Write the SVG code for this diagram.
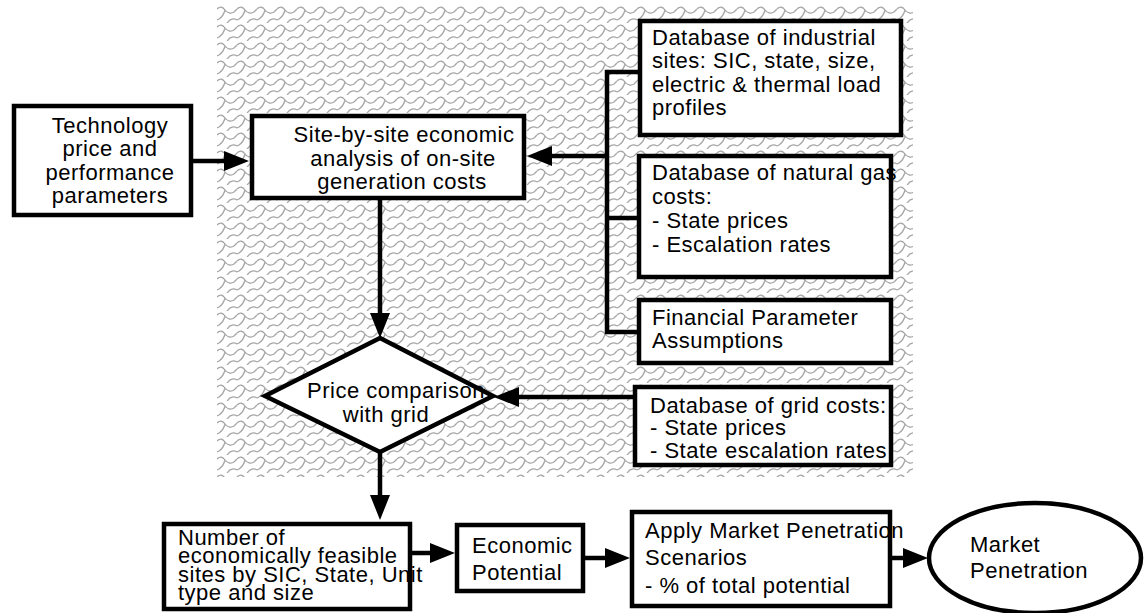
<svg xmlns="http://www.w3.org/2000/svg" width="1146" height="613" viewBox="0 0 1146 613">
<style>
  .box { fill: #ffffff; stroke: #000000; stroke-width: 4.5; }
  .conn { fill: none; stroke: #000000; stroke-width: 4.5; }
  text { font-family: "Liberation Sans", Arial, sans-serif; font-size: 22px; letter-spacing: 0.5px; fill: #000000; }
  .c { text-anchor: middle; }
</style>
<defs>
  <pattern id="shingle" patternUnits="userSpaceOnUse" x="217" y="5" width="20" height="18">
    <path d="M0,4 C3,1 6,2 8,5 C10,8 14,9 17,7 L20,4 M8,5 C7,9 5,12 2,14 L0,15 M20,15 C17,13 13,14 11,17 L10,18" fill="none" stroke="#a6a6a6" stroke-width="1.3"/>
  </pattern>
  <marker id="arrow" markerUnits="userSpaceOnUse" markerWidth="26" markerHeight="20" refX="0" refY="10" orient="auto">
    <path d="M0,0 L25,10 L0,20 Z" fill="#000000"/>
  </marker>
</defs>
<rect x="217" y="5" width="696" height="472" fill="url(#shingle)"/>

<g id="connectors">
  <line class="conn" x1="193" y1="161" x2="224" y2="161" marker-end="url(#arrow)"/>
  <polyline class="conn" points="638,72 607,72 607,332 638,332"/>
  <line class="conn" x1="607" y1="218" x2="638" y2="218"/>
  <line class="conn" x1="607" y1="156" x2="552" y2="156" marker-end="url(#arrow)"/>
  <line class="conn" x1="380" y1="200" x2="380" y2="313" marker-end="url(#arrow)"/>
  <line class="conn" x1="633" y1="397" x2="519" y2="397" marker-end="url(#arrow)"/>
  <line class="conn" x1="380" y1="452" x2="380" y2="495" marker-end="url(#arrow)"/>
  <line class="conn" x1="412" y1="553" x2="430" y2="553" marker-end="url(#arrow)"/>
  <line class="conn" x1="585" y1="558" x2="605" y2="558" marker-end="url(#arrow)"/>
  <line class="conn" x1="892" y1="558" x2="903" y2="558" marker-end="url(#arrow)"/>
</g>

<g id="technology">
  <rect class="box" x="14" y="106" width="177" height="109"/>
  <text class="c" x="110" y="133">Technology</text>
  <text class="c" x="110" y="156">price and</text>
  <text class="c" x="110" y="180">performance</text>
  <text class="c" x="110" y="203">parameters</text>
</g>

<g id="site-analysis">
  <rect class="box" x="252" y="116" width="272" height="82"/>
  <text class="c" x="404" y="142">Site-by-site economic</text>
  <text class="c" x="403" y="165.5">analysis of on-site</text>
  <text class="c" x="402" y="189">generation costs</text>
</g>

<g id="industrial-db">
  <rect class="box" x="640" y="21" width="261" height="114"/>
  <text x="652" y="45">Database of industrial</text>
  <text x="652" y="68">sites: SIC, state, size,</text>
  <text x="652" y="92">electric &amp; thermal load</text>
  <text x="652" y="115">profiles</text>
</g>

<g id="gas-db">
  <rect class="box" x="639" y="156" width="252" height="121"/>
  <text x="652" y="180">Database of natural gas</text>
  <text x="652" y="204">costs:</text>
  <text x="652" y="228">- State prices</text>
  <text x="652" y="252">- Escalation rates</text>
</g>

<g id="financial">
  <rect class="box" x="639" y="300" width="252" height="63"/>
  <text x="652" y="325">Financial Parameter</text>
  <text x="652" y="348">Assumptions</text>
</g>

<g id="grid-db">
  <rect class="box" x="635" y="387" width="256" height="78"/>
  <text x="650" y="413">Database of grid costs:</text>
  <text x="650" y="435">- State prices</text>
  <text x="650" y="458">- State escalation rates</text>
</g>

<g id="price-comparison">
  <polygon class="box" points="380,338 493,396 380,452 265,396"/>
  <text class="c" x="396" y="398">Price comparison</text>
  <text class="c" x="386" y="422">with grid</text>
</g>

<g id="feasible-sites">
  <rect class="box" x="164" y="524" width="246" height="85"/>
  <text x="178" y="545">Number of</text>
  <text x="178" y="563">economically feasible</text>
  <text x="178" y="582">sites by SIC, State, Unit</text>
  <text x="178" y="600">type and size</text>
</g>

<g id="economic-potential">
  <rect class="box" x="457" y="525" width="126" height="66"/>
  <text x="472" y="553">Economic</text>
  <text x="472" y="580">Potential</text>
</g>

<g id="apply-scenarios">
  <rect class="box" x="632" y="512" width="258" height="94"/>
  <text x="645" y="538">Apply Market Penetration</text>
  <text x="645" y="565">Scenarios</text>
  <text x="645" y="593">- % of total potential</text>
</g>

<g id="market-penetration">
  <ellipse class="box" cx="1035" cy="558" rx="106" ry="55"/>
  <text x="970" y="552">Market</text>
  <text x="970" y="578">Penetration</text>
</g>
</svg>
